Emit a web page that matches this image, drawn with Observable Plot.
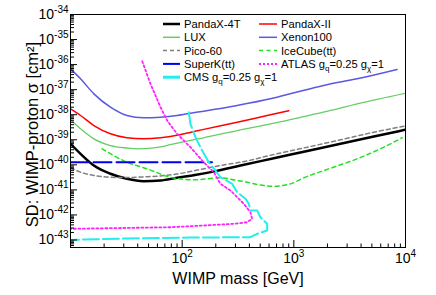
<!DOCTYPE html>
<html><head><meta charset="utf-8">
<script src="https://cdn.jsdelivr.net/npm/d3@7"></script>
<script src="https://cdn.jsdelivr.net/npm/@observablehq/plot@0.6"></script>
<style>
html,body{margin:0;padding:0;background:#fff;}
#chart{position:relative;width:436px;height:295px;font-family:"Liberation Sans",Arial,Helvetica,sans-serif;}
</style></head><body><div id="chart"></div>
<script>
// [WIMP mass (GeV), SD WIMP-proton cross section (cm^2)]
const pandax4t = [[10,6.9e-40],[12.3,2.75e-40],[16.2,9.4e-41],[22.8,4.4e-41],[32,2.76e-41],[45,2.21e-41],[64,2.36e-41],[90,3.05e-41],[130,3.9e-41],[200,5.6e-41],[333,9.4e-41],[661,1.82e-40],[1320,3.56e-40],[2620,6.9e-40],[5200,1.34e-39],[10000,2.52e-39]];
const pandax2 = [[10,1.72e-38],[12.3,9.3e-39],[16.2,3.7e-39],[22.8,1.73e-39],[32,1.2e-39],[45,1.09e-39],[64,1.2e-39],[90,1.5e-39],[120,2.0e-39],[156,2.6e-39],[311,5.0e-39],[617,1.0e-38],[900,1.45e-38]];
const lux = [[10,6.25e-39],[12.3,2.74e-39],[16.2,1.09e-39],[22.8,5.9e-40],[32,4.7e-40],[40,4.36e-40],[50,4.5e-40],[64,5.2e-40],[80,6.5e-40],[110,8.8e-40],[156,1.2e-39],[311,2.34e-39],[617,4.3e-39],[1145,7.9e-39],[1841,1.26e-38],[3690,2.72e-38],[10000,7.2e-38]];
const xenon100 = [[10,6.8e-37],[12.3,2.71e-37],[16.2,6.8e-38],[22.8,1.99e-38],[32,9.3e-39],[45,7.5e-39],[64,7.9e-39],[90,9.3e-39],[111,1.09e-38],[156,1.38e-38],[311,2.33e-38],[617,4.3e-38],[1050,7.9e-38],[1841,1.47e-37],[3690,2.71e-37],[8400,6.4e-37]];
const pico60 = [[10,7.6e-41],[12.3,5.1e-41],[16.2,3.74e-41],[22.8,3.2e-41],[32,3.1e-41],[45,3.3e-41],[64,3.6e-41],[90,4.3e-41],[130,5.9e-41],[253,1.05e-40],[333,1.27e-40],[661,2.58e-40],[1320,5.05e-40],[2620,9.95e-40],[5200,2.0e-39],[10000,3.54e-39]];
const icecube = [[19.2,4.36e-40],[32,1.27e-40],[48.6,6.9e-41],[78.6,3.2e-41],[127,2.52e-41],[220,3.03e-41],[311,2.36e-41],[382,2.02e-41],[469,1.64e-41],[661,1.4e-41],[933,1.74e-41],[1227,3.03e-41],[1853,5.9e-41],[3690,1.74e-40],[5960,4.36e-40],[9330,1.2e-39]];
const superk = [[10,1.27e-40],[60,1.27e-40],[185,1.27e-40]];
const atlas = [[43.9,1.37e-36],[52,1.71e-37],[64,1.99e-38],[73.4,5.86e-39],[90,1.73e-39],[118.6,5.05e-40],[156,1.27e-40],[192,5.1e-41],[220,1.74e-41],[271,9.4e-42],[311,5.1e-42],[356,2.77e-42],[409,1.28e-42],[423,6.98e-43],[382,5.12e-43],[290,4.42e-43],[156,3.78e-43],[78.6,3.23e-43],[10,2.79e-43]];
const cms = [[114.6,1.26e-38],[118.6,4.34e-39],[131.5,1.26e-39],[151,3.72e-40],[173,1.27e-40],[199,5.9e-41],[220,3.2e-41],[280,1.74e-41],[311,8.05e-42],[369,4.4e-42],[395,2.77e-42],[409,1.5e-42],[469,1.5e-42],[502,8.1e-43],[577,4.42e-43],[577,2.38e-43],[469,1.76e-43],[409,1.29e-43],[118,1.25e-43],[32,1.15e-43],[10,1.01e-43]];

const xTickValues = [100, 1000, 10000];
const xTickLabels = ["10^2", "10^3", "10^4"];
const yTickExponents = [-43, -42, -41, -40, -39, -38, -37, -36, -35, -34];
const yTickLabels = yTickExponents.map(e => "10^" + e);

const series = [
  {name: "PandaX-4T", data: pandax4t, stroke: "#000000", width: 2.5, dash: null, curve: "monotone-x"},
  {name: "PandaX-II", data: pandax2, stroke: "#ff0000", width: 1.5, dash: null, curve: "monotone-x"},
  {name: "LUX", data: lux, stroke: "#66cc66", width: 1.3, dash: null, curve: "monotone-x"},
  {name: "Xenon100", data: xenon100, stroke: "#5a5ae0", width: 1.5, dash: null, curve: "monotone-x"},
  {name: "Pico-60", data: pico60, stroke: "#808080", width: 1.5, dash: "4,3", curve: "monotone-x"},
  {name: "IceCube(tt)", data: icecube, stroke: "#22e022", width: 1.5, dash: "4,3.5", curve: "monotone-x"},
  {name: "SuperK(tt)", data: superk, stroke: "#0000ee", width: 2, dash: "18,5", curve: "linear"},
  {name: "ATLAS", data: atlas, stroke: "#ff22ff", width: 1.8, dash: "2,2.5", curve: "linear"},
  {name: "CMS", data: cms, stroke: "#22eeee", width: 2, dash: "16,4", curve: "linear"}
];

const yMin = Math.pow(10, -43.3), yMax = 1e-34;
const xMinor = [];
for (const d of [10, 100, 1000]) for (let m = 2; m <= 9; m++) xMinor.push(m * d);
const yMinor = [];
for (let e = -44; e <= -35; e++) for (let m = 2; m <= 9; m++) { const v = m * Math.pow(10, e); if (v >= yMin && v <= yMax) yMinor.push(v); }
const yMajor = yTickExponents.map(e => Math.pow(10, e));

const chart = Plot.plot({
  width: 436, height: 295,
  marginLeft: 70, marginRight: 31, marginTop: 14, marginBottom: 48,
  style: {fontFamily: "'Liberation Sans', Arial, Helvetica, sans-serif", background: "white", color: "black"},
  x: {type: "log", domain: [10, 1e4]},
  y: {type: "log", domain: [yMin, yMax]},
  marks: [
    ...series.map(s => Plot.line(s.data, {x: d => d[0], y: d => d[1], stroke: s.stroke, strokeWidth: s.width, strokeDasharray: s.dash, curve: s.curve, clip: true})),
    Plot.frame({stroke: "black", strokeWidth: 1}),
    Plot.axisX(xMinor, {tickSize: -3.5, fill: "none", label: null}),
    Plot.axisX([10, ...xTickValues], {tickSize: -7, fill: "none", label: null}),
    Plot.axisX(xTickValues, {tickSize: 0, tickPadding: 6, fontSize: 14, tickFormat: d => xTickLabels[xTickValues.indexOf(d)], label: null}),
    Plot.axisY(yMinor, {tickSize: -4, fill: "none", label: null}),
    Plot.axisY(yMajor, {tickSize: -7, fill: "none", label: null}),
    Plot.axisY(yMajor, {tickSize: 0, tickPadding: 2, fontSize: 14, tickFormat: d => yTickLabels[yMajor.indexOf(d)], label: null}),
    Plot.text(["WIMP mass [GeV]"], {frameAnchor: "bottom", text: d => d, dy: 31, fontSize: 16, lineAnchor: "middle", textAnchor: "middle"}),
    Plot.text(["SD: WIMP-proton σ [cm²]"], {frameAnchor: "left", text: d => d, rotate: -90, dx: -38, dy: 3.5, fontSize: 16.5, lineAnchor: "middle", textAnchor: "middle"})
  ]
});

const NS = "http://www.w3.org/2000/svg";
function supify(sel, supSize, supDy) {
  chart.querySelectorAll(sel).forEach(t => {
    const s = t.textContent; const i = s.indexOf("^");
    if (i < 0) return;
    t.textContent = "";
    const a = document.createElementNS(NS, "tspan"); a.textContent = s.slice(0, i);
    const b = document.createElementNS(NS, "tspan"); b.textContent = s.slice(i + 1);
    b.setAttribute("dy", supDy); b.setAttribute("font-size", supSize);
    t.append(a, b);
  });
}
supify('g[aria-label="x-axis tick label"] text', 10, -6);
supify('g[aria-label="y-axis tick label"] text', 10, -6);

// legend inside the frame
const legendItems = [
  {parts: [["PandaX-4T", ""]], col: 0, row: 0, stroke: "#000000", width: 2.5, dash: null},
  {parts: [["PandaX-II", ""]], col: 1, row: 0, stroke: "#ff0000", width: 1.5, dash: null},
  {parts: [["LUX", ""]], col: 0, row: 1, stroke: "#66cc66", width: 1.5, dash: null},
  {parts: [["Xenon100", ""]], col: 1, row: 1, stroke: "#5a5ae0", width: 1.5, dash: null},
  {parts: [["Pico-60", ""]], col: 0, row: 2, stroke: "#808080", width: 1.5, dash: "4,3"},
  {parts: [["IceCube(tt)", ""]], col: 1, row: 2, stroke: "#22e022", width: 1.5, dash: "4,3.5"},
  {parts: [["SuperK(tt)", ""]], col: 0, row: 3, stroke: "#0000ee", width: 2, dash: null},
  {parts: [["ATLAS g", ""], ["q", "sub"], ["=0.25 g", ""], ["χ", "sub"], ["=1", ""]], col: 1, row: 3, stroke: "#ff22ff", width: 2, dash: "2,2"},
  {parts: [["CMS g", ""], ["q", "sub"], ["=0.25 g", ""], ["χ", "sub"], ["=1", ""]], col: 0, row: 4, stroke: "#22eeee", width: 3, dash: null}
];
const colX = [[163, 180, 184], [259, 277, 281]];
const rowY0 = 24, rowStep = 13.3;
const lg = d3.select(chart).append("g")
  .attr("font-family", "'Liberation Sans', Arial, Helvetica, sans-serif")
  .attr("font-size", 11.2).attr("text-anchor", "start");
legendItems.forEach(it => {
  const [x1, x2, tx] = colX[it.col];
  const y = rowY0 + it.row * rowStep;
  lg.append("line").attr("x1", x1).attr("x2", x2).attr("y1", y).attr("y2", y)
    .attr("stroke", it.stroke).attr("stroke-width", it.width).attr("stroke-dasharray", it.dash);
  const t = lg.append("text").attr("x", tx).attr("y", y + 4).attr("fill", "black").attr("text-anchor", "start");
  let shifted = false;
  it.parts.forEach(([txt, kind]) => {
    const sp = t.append("tspan").text(txt);
    if (kind === "sub") { sp.attr("dy", 3).attr("font-size", 8); shifted = true; }
    else if (shifted) { sp.attr("dy", -3); shifted = false; }
  });
});

document.getElementById("chart").append(chart);
</script></body></html>
